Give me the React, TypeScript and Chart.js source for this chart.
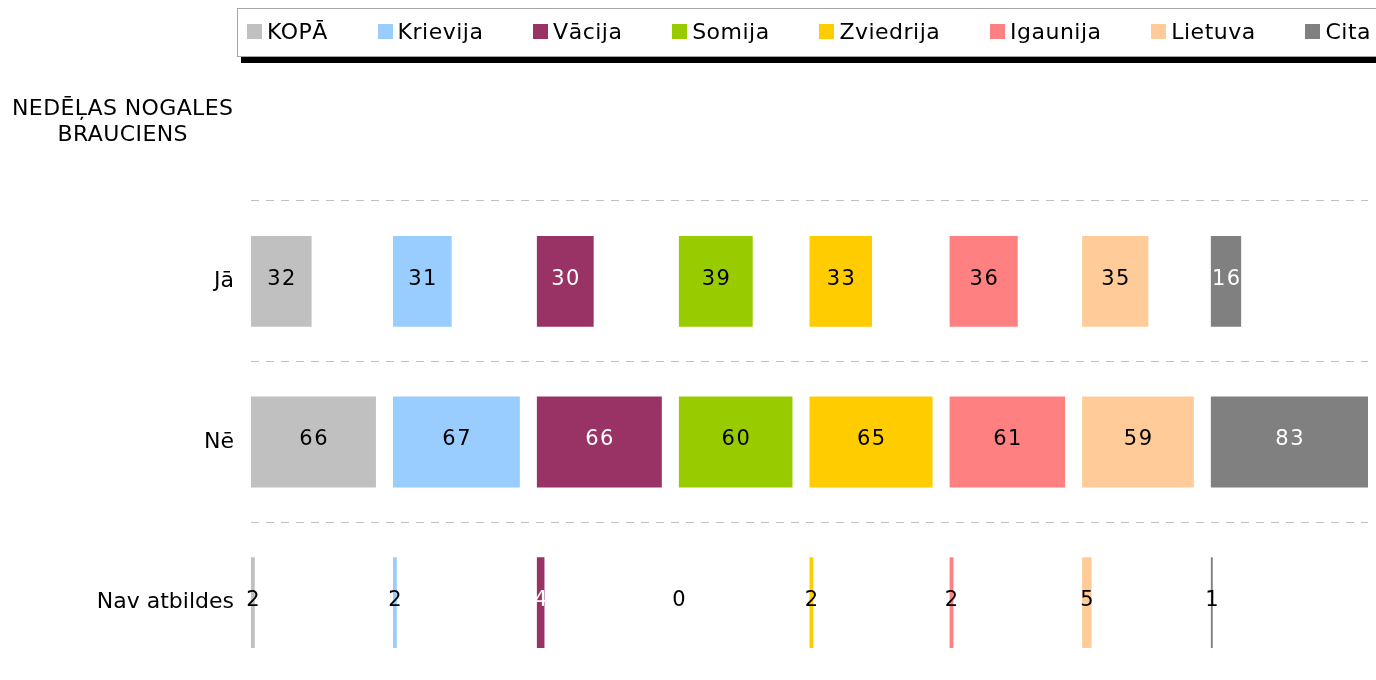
import React, { useEffect, useRef } from 'react';
import { Chart, registerables } from 'chart.js';

Chart.register(...registerables);

// ---- data ----
const categories = ['Jā', 'Nē', 'Nav atbildes'];
const seriesNames = ['KOPĀ', 'Krievija', 'Vācija', 'Somija', 'Zviedrija', 'Igaunija', 'Lietuva', 'Cita'];
const kopa = [32, 66, 2];
const krievija = [31, 67, 2];
const vacija = [30, 66, 4];
const somija = [39, 60, 0];
const zviedrija = [33, 65, 2];
const igaunija = [36, 61, 2];
const lietuva = [35, 59, 5];
const cita = [16, 83, 1];
const seriesValues = [kopa, krievija, vacija, somija, zviedrija, igaunija, lietuva, cita];
const seriesColors = ['#C0C0C0', '#99CCFF', '#993366', '#99CC00', '#FFCC00', '#FF8080', '#FFCC99', '#808080'];
const darkSeries = [false, false, true, false, false, false, false, true];
const titleLines = ['NEDĒĻAS NOGALES', 'BRAUCIENS'];

// each country gets its own panel; panel width = its largest value + gap
const PANEL_GAP = 9;
const panelOffsets: number[] = [];
let acc = 0;
seriesValues.forEach((vals) => {
  panelOffsets.push(acc);
  acc += Math.max(...vals) + PANEL_GAP;
});
const xMax = acc - PANEL_GAP;

const FONT = '"DejaVu Sans", Verdana, sans-serif';

const barLabels = {
  id: 'barLabels',
  afterDatasetsDraw(chart: any) {
    const ctx = chart.ctx;
    ctx.save();
    const spacing = 1.5;
    ctx.font = `21px ${FONT}`;
    try { (ctx as any).letterSpacing = `${spacing}px`; } catch (e) {}
    ctx.textAlign = 'center';
    ctx.textBaseline = 'middle';
    chart.data.datasets.forEach((_ds: any, i: number) => {
      const meta = chart.getDatasetMeta(i);
      meta.data.forEach((el: any, j: number) => {
        const v = seriesValues[i][j];
        const p = el.getProps(['x', 'base', 'y'], true);
        const w = Math.abs(p.x - p.base);
        const cx = (p.x + p.base) / 2 + spacing / 2;
        ctx.fillStyle = darkSeries[i] && w > 4 ? '#FFFFFF' : '#000000';
        ctx.fillText(String(v), cx, p.y - 2);
      });
    });
    ctx.restore();
  },
};

const sideTitle = {
  id: 'sideTitle',
  afterDraw(chart: any) {
    const ctx = chart.ctx;
    ctx.save();
    ctx.font = `22px ${FONT}`;
    try { (ctx as any).letterSpacing = '0.4px'; } catch (e) {}
    ctx.fillStyle = '#000000';
    ctx.textAlign = 'center';
    ctx.textBaseline = 'middle';
    titleLines.forEach((line, k) => {
      ctx.fillText(line, 122.7, 109.5 + k * 26);
    });
    ctx.restore();
  },
};

export default function App() {
  const canvasRef = useRef<HTMLCanvasElement | null>(null);

  useEffect(() => {
    document.body.style.margin = '0';
    document.body.style.overflow = 'hidden';
    const canvas = canvasRef.current;
    if (!canvas) return;
    const datasets = seriesNames.map((name, i) => ({
      label: name,
      data: seriesValues[i].map((v) => [panelOffsets[i], panelOffsets[i] + v]),
      backgroundColor: seriesColors[i],
      borderWidth: 0,
      grouped: false,
      categoryPercentage: 1,
      barPercentage: 0.565,
    }));
    const chart = new Chart(canvas, {
      type: 'bar',
      data: { labels: categories, datasets: datasets as any },
      options: {
        indexAxis: 'y',
        animation: false,
        responsive: false,
        maintainAspectRatio: false,
        layout: { padding: { top: 201, right: 8, bottom: 1, left: 0 } },
        plugins: {
          legend: { display: false },
          tooltip: { enabled: false },
          title: { display: false },
        },
        scales: {
          x: { type: 'linear', display: false, min: 0, max: xMax },
          y: {
            type: 'category',
            offset: true,
            grid: {
              offset: true,
              color: '#C0C0C0',
              lineWidth: 1,
              drawTicks: false,
              tickLength: 0,
            },
            border: { display: false, dash: [8, 7] },
            ticks: {
              color: '#000000',
              font: { family: FONT, size: 22 },
              padding: 17,
            },
            afterFit: (s: any) => {
              s.width = 251;
              s.paddingTop = 0;
              s.paddingBottom = 0;
            },
          },
        } as any,
      },
      plugins: [barLabels, sideTitle],
    });
    return () => chart.destroy();
  }, []);

  return (
    <div style={{ position: 'relative', width: 1376, height: 680, overflow: 'hidden', background: '#fff' }}>
      <canvas ref={canvasRef} width={1376} height={684} style={{ position: 'absolute', left: 0, top: 0 }} />
      <div
        style={{
          position: 'absolute',
          left: 237,
          top: 8,
          width: 1200,
          height: 49,
          boxSizing: 'border-box',
          border: '1px solid #A6A6A6',
          background: '#fff',
          boxShadow: '4px 6px 0 #000',
          display: 'flex',
          alignItems: 'center',
          paddingLeft: 9,
          paddingBottom: 3,
          fontFamily: FONT,
          fontSize: 22,
          letterSpacing: '0.5px',
          color: '#000',
          whiteSpace: 'nowrap',
        }}
      >
        {seriesNames.map((name, i) => (
          <div key={name} style={{ display: 'flex', alignItems: 'center', marginRight: 49.7 }}>
            <span style={{ display: 'inline-block', width: 15, height: 15, background: seriesColors[i], marginRight: 5 }} />
            <span>{name}</span>
          </div>
        ))}
      </div>
    </div>
  );
}
